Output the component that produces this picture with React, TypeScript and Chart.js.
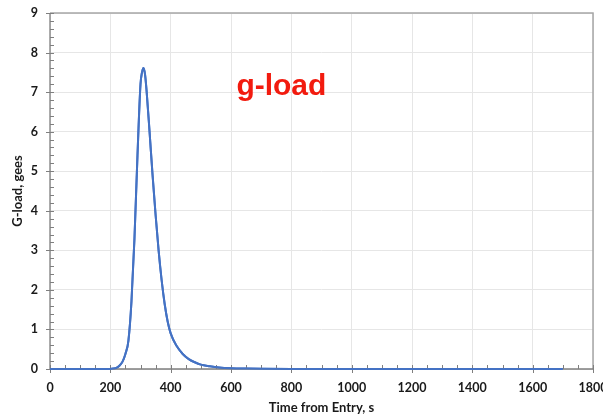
import React, { useEffect, useRef } from "react";
import { Chart, registerables } from "chart.js";

Chart.register(...registerables);

const timeS = [0, 100, 200, 210, 220, 230, 240, 250, 260, 270, 280, 290, 300, 305, 310, 315, 320, 330, 340, 350, 360, 370, 380, 390, 400, 420, 440, 460, 480, 500, 530, 560, 600, 650, 700, 800, 900, 1000, 1100, 1200, 1300, 1400, 1500, 1600, 1700];
const gLoad = [0, 0, 0, 0.01, 0.03, 0.08, 0.18, 0.38, 0.72, 1.7, 3.3, 5.4, 7.2, 7.5, 7.61, 7.45, 7.05, 6.0, 4.9, 3.9, 3.0, 2.25, 1.65, 1.2, 0.9, 0.58, 0.38, 0.25, 0.17, 0.11, 0.07, 0.04, 0.02, 0.01, 0.005, 0, 0, 0, 0, 0, 0, 0, 0, 0, 0];

const xMin = 0;
const xMax = 1800;
const xStep = 200;
const xMinorStep = 50;
const yMin = 0;
const yMax = 9;
const yStep = 1;
const yMinorStep = 0.2;

const titleText = "g-load";
const xTitle = "Time from Entry, s";
const yTitle = "G-load, gees";

const decorPlugin = {
  id: "decor",
  afterDraw(chart: any) {
    const { ctx, chartArea, scales } = chart;
    const xs = scales.x;
    const ys = scales.y;
    const { left, right, top, bottom } = chartArea;
    ctx.save();
    ctx.strokeStyle = "#a6a6a6";
    ctx.lineWidth = 1.5;
    ctx.beginPath();
    ctx.moveTo(left, top);
    ctx.lineTo(right, top);
    ctx.lineTo(right, bottom);
    ctx.stroke();
    ctx.strokeStyle = "#7f7f7f";
    ctx.lineWidth = 1.3;
    ctx.beginPath();
    ctx.moveTo(left, top);
    ctx.lineTo(left, bottom);
    ctx.lineTo(right, bottom);
    ctx.stroke();
    ctx.lineWidth = 1;
    ctx.beginPath();
    for (let v = xMin; v <= xMax + 1e-6; v += xMinorStep) {
      const px = Math.round(xs.getPixelForValue(v)) + 0.5;
      const major = Math.abs(v / xStep - Math.round(v / xStep)) < 1e-6;
      if (major) {
        ctx.moveTo(px, bottom - 4);
        ctx.lineTo(px, bottom + 4);
      } else {
        ctx.moveTo(px, bottom - 4);
        ctx.lineTo(px, bottom);
      }
    }
    for (let v = yMin; v <= yMax + 1e-6; v += yMinorStep) {
      const py = Math.round(ys.getPixelForValue(v)) + 0.5;
      const major = Math.abs(v / yStep - Math.round(v / yStep)) < 1e-6;
      if (major) {
        ctx.moveTo(left - 4, py);
        ctx.lineTo(left + 4, py);
      } else {
        ctx.moveTo(left, py);
        ctx.lineTo(left + 4, py);
      }
    }
    ctx.stroke();
    const meta = chart.getDatasetMeta(0);
    if (meta && meta.dataset) {
      meta.dataset.draw(ctx, chartArea);
    }
    ctx.fillStyle = "#f21b0f";
    ctx.font = "bold 30px 'Liberation Sans', Arial, sans-serif";
    ctx.textAlign = "center";
    ctx.textBaseline = "alphabetic";
    ctx.fillText(titleText, xs.getPixelForValue(767), ys.getPixelForValue(6.93));
    ctx.restore();
  },
};

export default function App() {
  const ref = useRef<HTMLCanvasElement | null>(null);
  useEffect(() => {
    if (!ref.current) return;
    const pts = timeS.map((t, i) => ({ x: t, y: gLoad[i] }));
    const chart = new Chart(ref.current, {
      type: "line",
      data: {
        datasets: [
          {
            data: pts,
            borderColor: "#4472c4",
            borderWidth: 2,
            pointRadius: 0,
            cubicInterpolationMode: "monotone",
            fill: false,
          },
        ],
      },
      options: {
        animation: false,
        responsive: false,
        maintainAspectRatio: false,
        layout: { padding: { top: 13, right: 10, left: 0, bottom: 0 } },
        plugins: { legend: { display: false }, tooltip: { enabled: false } },
        scales: {
          x: {
            type: "linear",
            min: xMin,
            max: xMax,
            grid: { color: "#e6e6e6", lineWidth: 1, drawTicks: false },
            border: { display: false },
            ticks: {
              stepSize: xStep,
              color: "#1a1a1a",
              padding: 11,
              maxRotation: 0,
              autoSkip: false,
              callback: (v: any) => String(v),
              font: { family: "Lato, 'Open Sans', sans-serif", weight: "bold", size: 12.5 },
            },
            title: {
              display: true,
              text: xTitle,
              color: "#1a1a1a",
              padding: { top: 0, bottom: -1 },
              font: { family: "Lato, 'Open Sans', sans-serif", weight: "bold", size: 13 },
            },
            afterFit(scale: any) {
              scale.height = 46;
              scale.paddingLeft = 0;
              scale.paddingRight = 0;
            },
          },
          y: {
            min: yMin,
            max: yMax,
            grid: { color: "#e6e6e6", lineWidth: 1, drawTicks: false },
            border: { display: false },
            ticks: {
              stepSize: yStep,
              color: "#1a1a1a",
              padding: 12,
              font: { family: "Lato, 'Open Sans', sans-serif", weight: "bold", size: 12.5 },
            },
            title: {
              display: true,
              text: yTitle,
              color: "#1a1a1a",
              padding: { top: 10, bottom: 0 },
              font: { family: "Lato, 'Open Sans', sans-serif", weight: "bold", size: 13 },
            },
            afterFit(scale: any) {
              scale.width = 50;
              scale.paddingTop = 0;
              scale.paddingBottom = 0;
            },
          },
        },
      },
      plugins: [decorPlugin],
    });
    return () => chart.destroy();
  }, []);
  return (
    <div style={{ position: "absolute", left: 0, top: 0, width: 603, height: 415, background: "#fff" }}>
      <canvas ref={ref} width={603} height={415} style={{ display: "block" }} />
    </div>
  );
}
